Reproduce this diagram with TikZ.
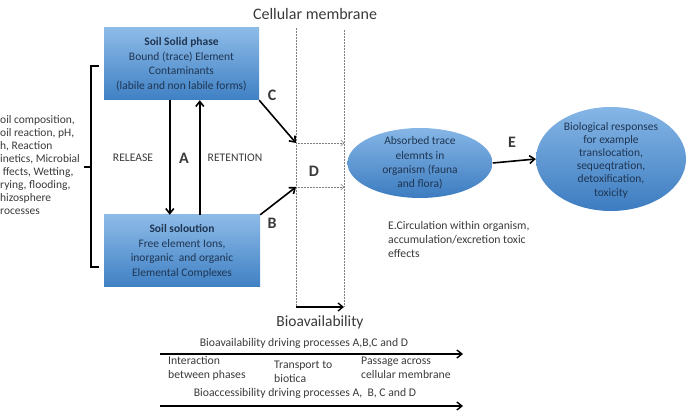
\documentclass[tikz,border=0pt]{standalone}
\usepackage{fontspec}
\setmainfont{Carlito}
\usetikzlibrary{arrows.meta,shapes.geometric}
\definecolor{boxtop}{HTML}{8DBBE8}
\definecolor{boxbot}{HTML}{3F80C4}
\definecolor{elltop}{HTML}{86B6E6}
\definecolor{ellbot}{HTML}{3C7CC0}
\definecolor{txtblue}{HTML}{1F3552}
\definecolor{txtgray}{HTML}{3A3A3A}
\begin{document}
\begin{tikzpicture}[x=1pt,y=-1pt,
  boxtext/.style={align=center, text=txtblue, font=\fontsize{11.5}{14.5}\selectfont},
  elltext/.style={align=center, text=txtblue, font=\fontsize{11.5}{14.2}\selectfont},
  cellip/.style={ellipse, draw=none, top color=elltop, bottom color=ellbot, inner sep=0pt},
  plain/.style={align=left, text=txtgray, font=\fontsize{11.7}{14}\selectfont, inner sep=0pt},
  biglabel/.style={font=\fontsize{16}{18}\selectfont\bfseries, text=txtgray},
  bigarrow/.style={line width=1.6pt, -{Straight Barb[length=5pt,width=8pt]}},
  membrane/.style={densely dotted, line width=0.5pt, draw=gray},
  dotarrow/.style={densely dotted, line width=0.5pt, draw=gray, -{Straight Barb[length=3pt,width=6pt]}},
  lowarrow/.style={line width=1.4pt, -{Straight Barb[length=5pt,width=8pt]}}
]
\useasboundingbox (0,0) rectangle (691,411);

% title
\node[font=\fontsize{16}{18}\selectfont, text=txtgray] (cm) at (315,14) {Cellular membrane};

% soil boxes
\shade[top color=boxtop, bottom color=boxbot] (104,28) rectangle (259,100);
\node[minimum width=155pt, minimum height=72pt, inner sep=0pt] (sol) at (181.5,64) {};
\node[boxtext] (soltext) at (181.5,64.5) {\textbf{Soil Solid phase}\\Bound (trace) Element\\Contaminants\\(labile and non labile forms)};

\shade[top color=boxtop, bottom color=boxbot] (104,215) rectangle (260,287);
\node[minimum width=156pt, minimum height=72pt, inner sep=0pt] (liq) at (182,251) {};
\node[boxtext] (liqtext) at (182,251.5) {\textbf{Soil soloution}\\Free element Ions,\\inorganic\ \ and organic\\Elemental Complexes};

% A arrows
\draw[bigarrow] ([xshift=66pt]sol.south west) -- ([xshift=66pt]liq.north west);
\draw[bigarrow] ([xshift=96pt]liq.north west) -- ([xshift=96pt]sol.south west);
\node[biglabel] (alab) at (184,158) {A};
\node[plain, font=\fontsize{11.6}{13}\selectfont] (rel) at (133,158) {RELEASE};
\node[plain, font=\fontsize{11.6}{13}\selectfont] (ret) at (235,158) {RETENTION};

% bracket
\coordinate (brt) at (99,66);
\coordinate (brb) at (99,267);
\coordinate (brm) at (84,167);
\draw[line width=1.5pt] (brt) -- (91,66) -- (91,267) -- (brb);
\draw[line width=1.5pt] (91,167) -- (brm);

% left text
\node[plain, anchor=north west, font=\fontsize{11.5}{13}\selectfont] (lefttext) at (0,115) {oil composition,\\oil reaction, pH,\\h, Reaction\\inetics, Microbial\\\ ffects, Wetting,\\rying, flooding,\\hizosphere\\rocesses};

% membrane
\coordinate (m1t) at (296,28);
\coordinate (m1b) at (296,307);
\coordinate (m2t) at (344,30);
\coordinate (m2b) at (344,307);
\draw[membrane] (m1t) -- (m1b);
\draw[membrane] (m2t) -- (m2b);
\draw[line width=1.3pt, -{Straight Barb[length=5pt,width=8pt]}] (m1b) -- (m2b);
\coordinate (cin) at (296,143);
\coordinate (cout) at (344,143);
\coordinate (bin) at (296,187);
\coordinate (bout) at (344,187);
\draw[dotarrow] (cin) -- (cout);
\draw[dotarrow] (bin) -- (bout);
\draw[line width=1.6pt, -{Straight Barb[length=5pt,width=8pt]}] (sol.south east) -- (cin);
\draw[line width=1.6pt, -{Straight Barb[length=5pt,width=8pt]}] (liq.north east) -- (bin);
\node[biglabel] (clab) at (272,95) {C};
\node[biglabel] (blab) at (272,223) {B};
\node[biglabel] (dlab) at (314,171) {D};
\node[font=\fontsize{15.5}{17}\selectfont, text=txtgray] (bav) at (320,322) {Bioavailability};

% ellipses
\node[cellip, minimum width=145pt, minimum height=70pt] (abs) at (420,163) {};
\node[elltext] (abstext) at (420,163) {Absorbed trace\\elemnts in\\organism (fauna\\and flora)};
\node[cellip, minimum width=150pt, minimum height=104pt] (bio) at (611,159) {};
\node[elltext, font=\fontsize{11.5}{13.2}\selectfont] (biotext) at (611,160) {Biological responses\\for example\\translocation,\\sequeqtration,\\detoxification,\\toxicity};
\draw[bigarrow] (abs.east) -- (bio.west);
\node[biglabel] (elab) at (512,142) {E};

\node[plain, anchor=north west] (circ) at (388,221) {E.Circulation within organism,\\accumulation/excretion toxic\\effects};

% bottom
\coordinate (a1s) at (160,354);
\coordinate (a1e) at (463,354);
\coordinate (a2s) at (160,406);
\coordinate (a2e) at (463,406);
\node[plain] (bavd) at (304,343) {Bioavailability driving processes A,B,C and D};
\draw[lowarrow] (a1s) -- (a1e);
\node[plain, anchor=north west] (inter) at (168,356) {Interaction\\between phases};
\node[plain, anchor=north west] (trans) at (274,361) {Transport to\\biotica};
\node[plain, anchor=north west] (pass) at (361,357) {Passage across\\cellular membrane};
\node[plain] (bacc) at (305,393) {Bioaccessibility driving processes A,\ \ B, C and D};
\draw[lowarrow] (a2s) -- (a2e);
\end{tikzpicture}
\end{document}
